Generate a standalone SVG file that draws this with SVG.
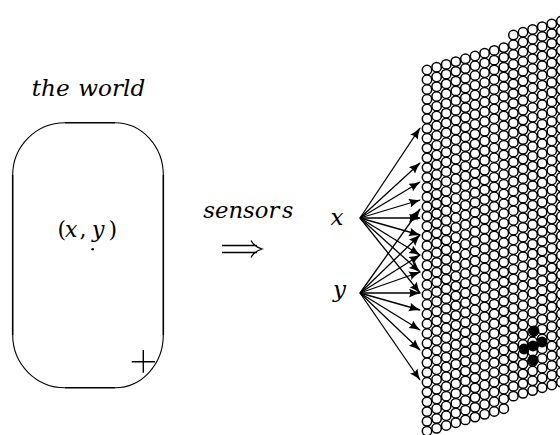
<svg xmlns="http://www.w3.org/2000/svg" xmlns:xlink="http://www.w3.org/1999/xlink" width="560" height="435" viewBox="0 0 560 435">
<style>
.t{font-family:"DejaVu Serif","Liberation Serif",serif;font-style:italic;font-size:22px;fill:#000}
.u{font-style:normal}
.lg{font-size:23px}
.ln{stroke:#000;stroke-width:1.4;fill:none}
.ar{stroke:#000;stroke-width:1.3;fill:none;marker-end:url(#ah)}
.cc{fill:#fff;stroke:#000;stroke-width:1.5}
.bk{fill:#000;stroke:#000;stroke-width:1.5}
</style>
<defs>
<marker id="ah" markerUnits="userSpaceOnUse" markerWidth="14" markerHeight="10" refX="11" refY="4.5" orient="auto">
<path d="M0,0 Q5,3 12,4.5 Q5,6 0,9 Q2.5,4.5 0,0 z" fill="#000"/>
</marker>
<circle id="c" r="4.7" class="cc"/>
<g id="c2"><use xlink:href="#c"/><use xlink:href="#c" y="9.76"/></g>
<g id="c4"><use xlink:href="#c2"/><use xlink:href="#c2" y="19.52"/></g>
<g id="c8"><use xlink:href="#c4"/><use xlink:href="#c4" y="39.04"/></g>
<g id="c16"><use xlink:href="#c8"/><use xlink:href="#c8" y="78.08"/></g>
<g id="c32"><use xlink:href="#c16"/><use xlink:href="#c16" y="156.16"/></g>
<g id="col"><use xlink:href="#c32"/><use xlink:href="#c4" y="312.32"/><use xlink:href="#c2" y="351.36"/></g>
</defs>
<rect width="560" height="435" fill="#fff"/>

<g id="world">
<text class="t" x="31.7" y="96" textLength="38" lengthAdjust="spacingAndGlyphs">the</text>
<text class="t" x="78.3" y="96" textLength="67" lengthAdjust="spacingAndGlyphs">world</text>
<path class="ln" style="stroke-width:1.6" d="M65,122.7 H115 M12.7,175 V335 M163.3,175 V335 M65,387.7 H115"/>
<path class="ln" style="stroke-width:1.1" d="M115,122.7 A48.3,52.3 0 0 1 163.3,175 M12.7,175 A52.3,52.3 0 0 1 65,122.7 M163.3,335 A48.3,52.7 0 0 1 115,387.7 M65,387.7 A52.3,52.7 0 0 1 12.7,335"/>
<text class="t" y="237"><tspan class="u" x="57.5">(</tspan><tspan x="65">x</tspan><tspan class="u" x="79.5">,</tspan><tspan x="92">y</tspan><tspan class="u" x="108.5">)</tspan></text>
<circle cx="92.7" cy="249.3" r="1.3" fill="#000"/>
<path class="ln" d="M131.7,361.7 H155 M143.3,350 V372.7"/>
</g>

<g id="sensors">
<text class="t" x="203.3" y="218" textLength="76" lengthAdjust="spacingAndGlyphs">sensor</text>
<text class="t" x="282" y="218">s</text>
<path class="ln" style="stroke-width:1.3" d="M222,245.5 H257 M222,252.5 H257 M251,240.5 Q254,246.5 262,249 Q254,251.5 251,257.5"/>
</g>

<g id="node-x"><text class="t lg" x="330.5" y="225">x</text></g>
<g id="node-y"><text class="t lg" x="333" y="297">y</text></g>

<g id="connectors">
<path class="ar" d="M360,218 L420,128"/>
<path class="ar" d="M360,218 L420,163"/>
<path class="ar" d="M360,218 L420,182"/>
<path class="ar" d="M360,218 L420,200"/>
<path class="ar" d="M360,218 L420,218"/>
<path class="ar" d="M360,218 L420,235"/>
<path class="ar" d="M360,218 L420,255"/>
<path class="ar" d="M360,218 L420,272"/>
<path class="ar" d="M360,218 L420,293"/>
<path class="ar" d="M360,293 L420,209"/>
<path class="ar" d="M360,293 L420,235"/>
<path class="ar" d="M360,293 L420,255"/>
<path class="ar" d="M360,293 L420,272"/>
<path class="ar" d="M360,293 L420,293"/>
<path class="ar" d="M360,293 L420,310"/>
<path class="ar" d="M360,293 L420,330"/>
<path class="ar" d="M360,293 L420,350"/>
<path class="ar" d="M360,293 L420,380"/>
</g>

<g id="grid">
<use xlink:href="#col" x="427" y="70"/>
<use xlink:href="#col" x="436.6" y="67.2"/>
<use xlink:href="#col" x="446.2" y="64.4"/>
<use xlink:href="#col" x="455.8" y="61.6"/>
<use xlink:href="#col" x="465.4" y="58.8"/>
<use xlink:href="#col" x="475" y="56"/>
<use xlink:href="#col" x="484.6" y="53.2"/>
<use xlink:href="#col" x="494.2" y="50.4"/>
<use xlink:href="#col" x="503.8" y="47.6"/>
<use xlink:href="#col" x="513.4" y="35.04"/>
<use xlink:href="#col" x="523" y="32.24"/>
<use xlink:href="#col" x="532.6" y="29.44"/>
<use xlink:href="#col" x="542.2" y="26.64"/>
<use xlink:href="#col" x="551.8" y="23.84"/>
<use xlink:href="#col" x="561.4" y="21.04"/>
<circle class="bk" cx="534" cy="331" r="4.7"/>
<circle class="bk" cx="524" cy="349" r="4.7"/>
<circle class="bk" cx="533" cy="346" r="4.7"/>
<circle class="bk" cx="542" cy="342" r="4.7"/>
<circle class="bk" cx="533" cy="360" r="4.7"/>
</g>
</svg>
